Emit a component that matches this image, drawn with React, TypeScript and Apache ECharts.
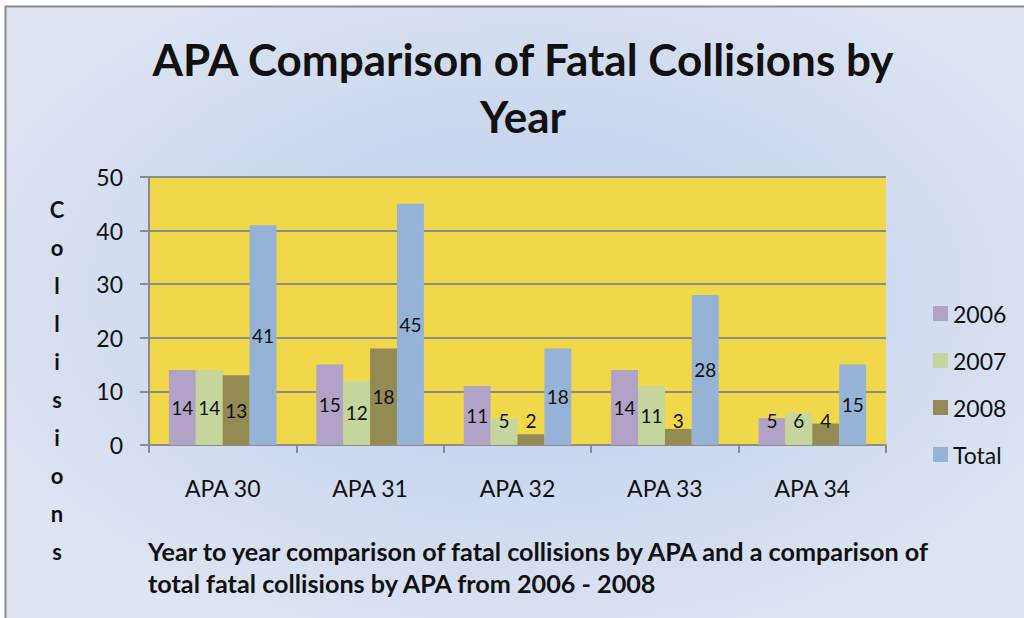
import React, { useEffect, useRef } from "react";
import * as echarts from "echarts";

const categories = ["APA 30", "APA 31", "APA 32", "APA 33", "APA 34"];
const seriesNames = ["2006", "2007", "2008", "Total"];
const values2006 = [14, 15, 11, 14, 5];
const values2007 = [14, 12, 5, 11, 6];
const values2008 = [13, 18, 2, 3, 4];
const valuesTotal = [41, 45, 18, 28, 15];
const colors = ["#B3A2C7", "#C4D69B", "#948A54", "#95B3D7"];
const yTicks = { min: 0, max: 50, interval: 10 };

const titleText = "APA Comparison of Fatal Collisions by\nYear";
const axisNameLetters = "Collisions".split("");
const footnote =
  "Year to year comparison of fatal collisions by APA and a comparison of\ntotal fatal collisions by APA from 2006 - 2008";

const FONT = "Lato";

export default function App() {
  const ref = useRef<HTMLDivElement>(null);
  useEffect(() => {
    if (!ref.current) return;
    const chart = echarts.init(ref.current, undefined, { renderer: "svg" });
    const all = [values2006, values2007, values2008, valuesTotal];
    const series = all.map((vals, i) => ({
      name: seriesNames[i],
      type: "bar",
      barGap: "0%",
      barCategoryGap: "27%",
      itemStyle: { color: colors[i] },
      data: vals.map((v) => ({
        value: v,
        label:
          v < 9
            ? { position: "insideBottom", distance: 15 }
            : { position: "inside" },
      })),
      label: {
        show: true,
        color: "#111",
        fontFamily: FONT,
        fontSize: 19,
      },
    }));
    chart.setOption({
      animation: false,
      backgroundColor: "#ffffff",
      graphic: [
        {
          type: "rect",
          z: -10,
          shape: { x: 5.5, y: 6.5, width: 1040, height: 640 },
          style: {
            fill: new echarts.graphic.RadialGradient(0.5, 0.45, 0.6, [
              { offset: 0, color: "#b9cbe9" },
              { offset: 1, color: "#dfe6f3" },
            ]),
            stroke: "#8a8a8a",
            lineWidth: 2,
          },
        },
        {
          type: "text",
          x: 57,
          y: 191,
          style: {
            text: axisNameLetters.join("\n"),
            fontFamily: FONT,
            fontWeight: "bold",
            fontSize: 22,
            lineHeight: 37.9,
            align: "center",
            verticalAlign: "top",
            fill: "#111",
          },
        },
        {
          type: "text",
          x: 148,
          y: 535,
          style: {
            text: footnote,
            fontFamily: FONT,
            fontWeight: "bold",
            fontSize: 25.2,
            lineHeight: 32,
            verticalAlign: "top",
            fill: "#111",
          },
        },
      ],
      title: {
        text: titleText,
        left: 518,
        textAlign: "center",
        top: 25,
        textStyle: {
          fontFamily: FONT,
          fontWeight: "bold",
          fontSize: 44,
          lineHeight: 57,
          color: "#111",
        },
      },
      legend: {
        orient: "vertical",
        left: 928,
        top: 297,
        itemWidth: 15,
        itemHeight: 15,
        itemGap: 24,
        icon: "rect",
        textStyle: { fontFamily: FONT, fontSize: 23, color: "#111" },
        data: seriesNames,
      },
      grid: {
        left: 149,
        right: 1024 - 886,
        top: 177,
        bottom: 618 - 445,
        show: true,
        backgroundColor: "#F0D84A",
        borderWidth: 0,
      },
      xAxis: {
        type: "category",
        data: categories,
        axisLine: { lineStyle: { color: "#8c8c8c", width: 2 } },
        axisTick: { show: true, length: 8, lineStyle: { color: "#8c8c8c", width: 2 } },
        axisLabel: {
          fontFamily: FONT,
          fontSize: 23,
          color: "#111",
          margin: 31,
        },
      },
      yAxis: {
        type: "value",
        min: yTicks.min,
        max: yTicks.max,
        interval: yTicks.interval,
        axisLine: { show: true, lineStyle: { color: "#8c8c8c", width: 2 } },
        axisTick: { show: true, length: 9, lineStyle: { color: "#8c8c8c", width: 2 } },
        splitLine: { lineStyle: { color: "#8c8c8c", width: 2 } },
        axisLabel: {
          fontFamily: FONT,
          fontSize: 23,
          color: "#111",
          margin: 26,
        },
      },
      series,
    });
    return () => chart.dispose();
  }, []);
  return (
    <div
      ref={ref}
      style={{ position: "fixed", left: 0, top: 0, width: 1024, height: 618 }}
    />
  );
}
